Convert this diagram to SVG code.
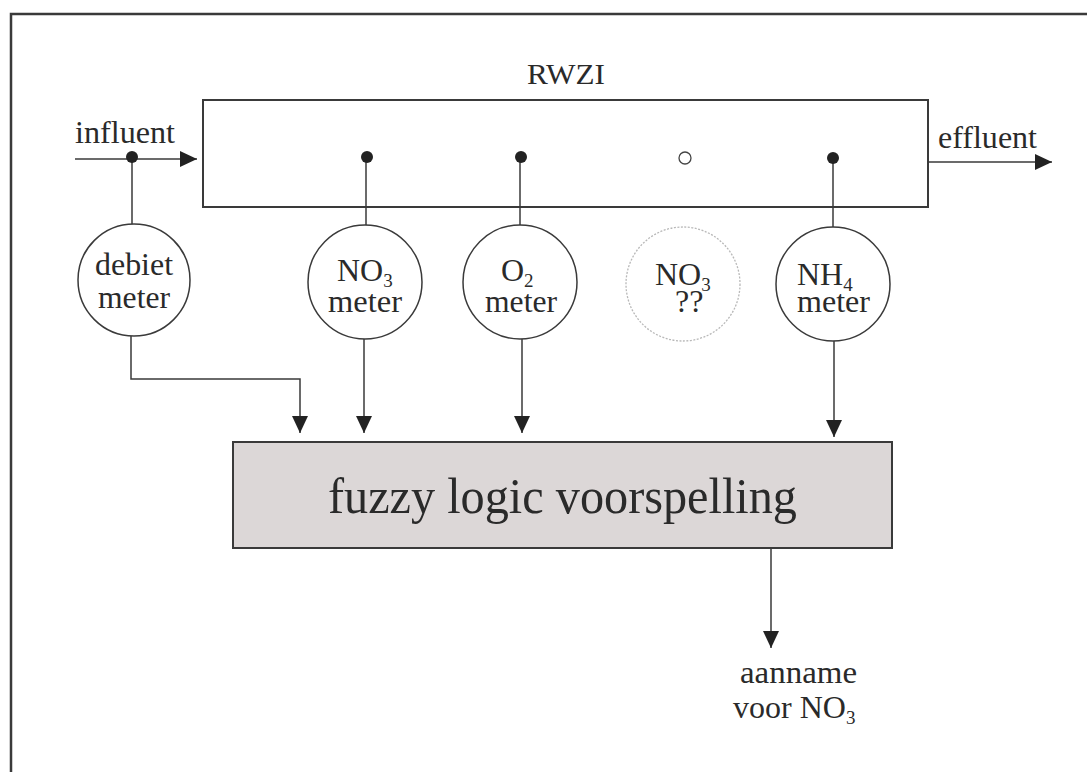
<svg xmlns="http://www.w3.org/2000/svg" width="1087" height="772" viewBox="0 0 1087 772">
  <style>
    .t { font-family: "Liberation Serif", "Times New Roman", serif; fill: #2a2a2a; }
    .lbl { font-size: 32px; }
    .sub { font-size: 19px; }
    .ln { stroke: #3a3a3a; stroke-width: 1.5; fill: none; }
    .circ { stroke: #3a3a3a; stroke-width: 1.5; fill: #ffffff; }
    .dot { fill: #222; }
  </style>
  <defs>
    <marker id="ah" viewBox="0 0 17 16" refX="17" refY="8" markerWidth="17" markerHeight="16" orient="auto" markerUnits="userSpaceOnUse">
      <path d="M0,0 L17,8 L0,16 z" fill="#222"/>
    </marker>
  </defs>
  <rect width="1087" height="772" fill="#ffffff"/>
  <!-- frame -->
  <path d="M11,772 L11,14 L1087,14" stroke="#3a3a3a" stroke-width="2.5" fill="none"/>

  <g id="rwzi">
    <rect x="203" y="100" width="725" height="107" fill="none" stroke="#3a3a3a" stroke-width="2"/>
    <text class="t" x="527" y="84" font-size="29" textLength="78" lengthAdjust="spacingAndGlyphs">RWZI</text>
  </g>

  <g id="influent-label">
    <text class="t lbl" x="75" y="143" textLength="100" lengthAdjust="spacingAndGlyphs">influent</text>
  </g>
  <g id="effluent-label">
    <text class="t lbl" x="938" y="148" textLength="99" lengthAdjust="spacingAndGlyphs">effluent</text>
  </g>

  <g id="connectors">
    <line class="ln" x1="75" y1="159" x2="197" y2="159" marker-end="url(#ah)"/>
    <line class="ln" x1="928" y1="162" x2="1052" y2="162" marker-end="url(#ah)"/>
    <line class="ln" x1="132" y1="157" x2="132" y2="224"/>
    <line class="ln" x1="366" y1="157" x2="366" y2="225"/>
    <line class="ln" x1="520" y1="157" x2="520" y2="225"/>
    <line class="ln" x1="833" y1="158" x2="833" y2="227"/>
    <polyline class="ln" points="131,336 131,379 300,379 300,433" marker-end="url(#ah)"/>
    <line class="ln" x1="364" y1="339" x2="364" y2="433" marker-end="url(#ah)"/>
    <line class="ln" x1="522" y1="339" x2="522" y2="433" marker-end="url(#ah)"/>
    <line class="ln" x1="834" y1="341" x2="834" y2="437" marker-end="url(#ah)"/>
    <line class="ln" x1="771" y1="549" x2="771" y2="648" marker-end="url(#ah)"/>
    <circle class="dot" cx="132" cy="157" r="6"/>
    <circle class="dot" cx="367" cy="157" r="6"/>
    <circle class="dot" cx="521" cy="157" r="6"/>
    <circle cx="685" cy="158" r="6" fill="#fff" stroke="#444" stroke-width="1.3"/>
    <circle class="dot" cx="833" cy="158" r="6"/>
  </g>

  <g id="debiet-meter">
    <circle class="circ" cx="134" cy="280" r="56"/>
    <text class="t lbl" x="95" y="275" textLength="78" lengthAdjust="spacingAndGlyphs">debiet</text>
    <text class="t lbl" x="98" y="308" textLength="72" lengthAdjust="spacingAndGlyphs">meter</text>
  </g>

  <g id="no3-meter">
    <circle class="circ" cx="365" cy="282" r="57"/>
    <text class="t lbl" x="337" y="281">NO<tspan class="sub" dy="6">3</tspan></text>
    <text class="t lbl" x="328" y="312" textLength="74" lengthAdjust="spacingAndGlyphs">meter</text>
  </g>

  <g id="o2-meter">
    <circle class="circ" cx="520" cy="282" r="57"/>
    <text class="t lbl" x="501" y="281">O<tspan class="sub" dy="6">2</tspan></text>
    <text class="t lbl" x="485" y="312" textLength="72" lengthAdjust="spacingAndGlyphs">meter</text>
  </g>

  <g id="no3-unknown">
    <circle cx="683" cy="284" r="57" fill="#fff" stroke="#b8b8b8" stroke-width="1.3" stroke-dasharray="2 1.5"/>
    <text class="t lbl" x="655" y="285">NO<tspan class="sub" dy="6">3</tspan></text>
    <text class="t lbl" x="675" y="312">??</text>
  </g>

  <g id="nh4-meter">
    <circle class="circ" cx="833" cy="284" r="57"/>
    <text class="t lbl" x="797" y="285">NH<tspan class="sub" dy="6">4</tspan></text>
    <text class="t lbl" x="797" y="312" textLength="73" lengthAdjust="spacingAndGlyphs">meter</text>
  </g>

  <g id="fuzzy">
    <rect x="233" y="442" width="659" height="106" fill="#dcd7d7" stroke="#3a3a3a" stroke-width="2"/>
    <text class="t" x="328" y="513" font-size="50" textLength="469" lengthAdjust="spacingAndGlyphs">fuzzy logic voorspelling</text>
  </g>

  <g id="output-label">
    <text class="t lbl" x="740" y="683" textLength="117" lengthAdjust="spacingAndGlyphs">aanname</text>
    <text class="t lbl" x="733" y="718">voor NO<tspan class="sub" dy="6">3</tspan></text>
  </g>
</svg>
